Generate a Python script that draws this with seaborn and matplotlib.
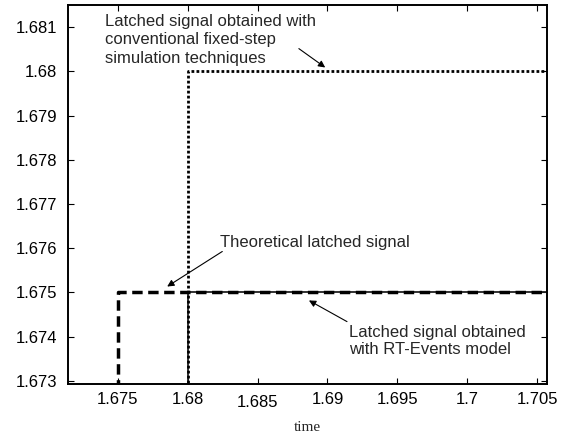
import matplotlib
matplotlib.use("Agg")
import matplotlib.pyplot as plt
import seaborn as sns
import pandas as pd

# --- data ---
theo_time = [1.670, 1.675, 1.710]
theo_value = [1.670, 1.675, 1.675]
fixed_time = [1.670, 1.680, 1.710]
fixed_value = [1.670, 1.680, 1.680]
rt_time = [1.670, 1.680, 1.710]
rt_value = [1.670, 1.675, 1.675]

xticks = [1.675, 1.68, 1.685, 1.69, 1.695, 1.7, 1.705]
xtick_labels = ["1.675", "1.68", "1.685", "1.69", "1.695", "1.7", "1.705"]
yticks = [1.673, 1.674, 1.675, 1.676, 1.677, 1.678, 1.679, 1.68, 1.681]
ytick_labels = ["1.673", "1.674", "1.675", "1.676", "1.677", "1.678", "1.679", "1.68", "1.681"]

sns.set_style("ticks")
plt.rcParams["font.family"] = ["Liberation Sans", "DejaVu Sans"]

FS = 12

fig = plt.figure(figsize=(5.73, 4.37), dpi=100)
ax = fig.add_axes([0.1187, 0.1213, 0.9546 - 0.1187, 0.9886 - 0.1213])

df_rt = pd.DataFrame({"time": rt_time, "value": rt_value})
df_theo = pd.DataFrame({"time": theo_time, "value": theo_value})
df_fixed = pd.DataFrame({"time": fixed_time, "value": fixed_value})

sns.lineplot(data=df_rt, x="time", y="value", ax=ax, color="#222222", lw=1.3,
             drawstyle="steps-post", sort=False, estimator=None)
sns.lineplot(data=df_theo, x="time", y="value", ax=ax, color="black", lw=2.5,
             drawstyle="steps-post", sort=False, estimator=None, dashes=False,
             linestyle=(0, (3.0, 1.6)))
sns.lineplot(data=df_fixed, x="time", y="value", ax=ax, color="black", lw=2.0,
             drawstyle="steps-post", sort=False, estimator=None,
             linestyle=(0, (1.0, 0.8)))

ax.set_xlim(1.67143, 1.70571)
ax.set_ylim(1.67293, 1.68150)
ax.set_xticks(xticks)
ax.set_xticklabels(xtick_labels)
ax.set_yticks(yticks)
ax.set_yticklabels(ytick_labels)
ax.tick_params(direction="in", top=True, right=True, length=4, width=0.8,
               labelsize=FS, colors="black")
ax.tick_params(axis="x", pad=6)
ax.tick_params(axis="y", pad=8)
ax.xaxis.get_major_ticks()[2].set_pad(8)
for s in ax.spines.values():
    s.set_linewidth(1.4)
    s.set_color("black")

ax.set_xlabel("time", fontfamily="Liberation Serif", fontsize=11, labelpad=8)
ax.set_ylabel("")

ax.text(1.67407, 1.68130, "Latched signal obtained with\nconventional fixed-step\nsimulation techniques",
        fontsize=FS, va="top", ha="left", linespacing=1.3)
ax.annotate("", xy=(1.6900, 1.68005), xytext=(1.68779, 1.68055),
            arrowprops=dict(arrowstyle="-|>", color="black", lw=0.8, mutation_scale=10))

ax.text(1.68229, 1.67614, "Theoretical latched signal", fontsize=FS, va="center", ha="left")
ax.annotate("", xy=(1.67836, 1.67510), xytext=(1.68264, 1.67596),
            arrowprops=dict(arrowstyle="-|>", color="black", lw=0.8, mutation_scale=10))

ax.text(1.69157, 1.67390, "Latched signal obtained\nwith RT-Events model",
        fontsize=FS, va="center", ha="left", linespacing=1.2)
ax.annotate("", xy=(1.68850, 1.67485), xytext=(1.69157, 1.67431),
            arrowprops=dict(arrowstyle="-|>", color="black", lw=0.8, mutation_scale=10))

fig.savefig("out.png", dpi=100)
